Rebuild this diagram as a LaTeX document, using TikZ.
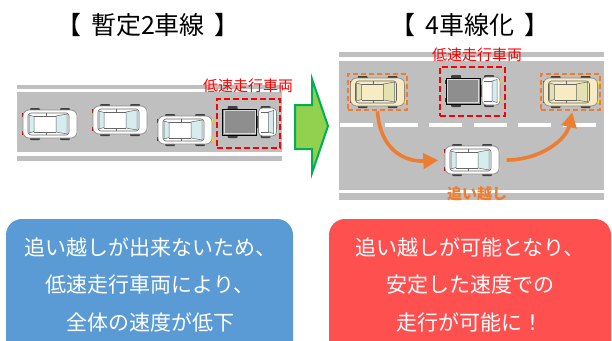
\documentclass[tikz,border=0pt]{standalone}
\usepackage{fontspec}
\setmainfont{Noto Sans CJK JP}
\usetikzlibrary{arrows.meta}

\definecolor{roadgray}{HTML}{BFBFBF}
\definecolor{winblue}{HTML}{D6ECEF}
\definecolor{creambody}{HTML}{F7EBC3}
\definecolor{creamwin}{HTML}{E4E2B0}
\definecolor{cargogray}{HTML}{8E8E8E}
\definecolor{passorange}{HTML}{ED7D31}
\definecolor{slowred}{HTML}{FF0000}
\definecolor{boxblue}{HTML}{5B9BD5}
\definecolor{boxred}{HTML}{FF5050}
\definecolor{arrowfill}{HTML}{92D050}
\definecolor{arrowedge}{HTML}{00B050}

\newcommand{\titlegap}{\hspace{0.4em}}

\tikzset{
  wheel/.style={fill=black!75, rounded corners=1pt},
  lane/.style={white, line width=3.8pt},
  titletext/.style={font=\fontsize{25}{29}\selectfont, text=black},
  slowlabel/.style={font=\fontsize{15}{17}\selectfont, text=slowred},
  slowbox/.style={draw=slowred, line width=2.4pt, dash pattern=on 6pt off 3pt},
  passbox/.style={draw=passorange, line width=2.6pt, dash pattern=on 5pt off 3pt,
    minimum width=59pt, minimum height=36pt},
  passarrow/.style={passorange, line width=3.6pt, -{Triangle[length=15pt,width=15pt]}},
  infobox/.style={rounded corners=16pt},
  infotext/.style={font=\fontsize{21}{37.5}\selectfont, text=white, align=center},
  % top view of a car, front to the right: body colour, window colour
  pics/car/.style n args={2}{code={
    \fill[wheel] (-20,-16) rectangle (-10,-12);
    \fill[wheel] (-20,12) rectangle (-10,16);
    \fill[wheel] (10,-16) rectangle (20,-12);
    \fill[wheel] (10,12) rectangle (20,16);
    \fill[red!80!black] (-28,-11) rectangle (-26,-7);
    \fill[red!80!black] (-28,7) rectangle (-26,11);
    \fill[yellow!90!orange] (26,-11) rectangle (28,-7);
    \fill[yellow!90!orange] (26,7) rectangle (28,11);
    \draw[black!45, line width=0.7pt, fill=#1, rounded corners=6pt] (-27,-14) rectangle (27,14);
    \draw[black!60, line width=0.6pt, fill=#1, rounded corners=3pt] (-22,-11) rectangle (19,11);
    \draw[black!60, line width=0.5pt, fill=#2] (-21,-9) -- (-16,-7.5) -- (-16,7.5) -- (-21,9) -- cycle;
    \draw[black!60, line width=0.5pt, fill=#2] (6,-8) -- (17,-10) -- (17,10) -- (6,8) -- cycle;
    \draw[black!60, line width=0.5pt] (-16,-8) -- (6,-8) (-16,8) -- (6,8)
      (-4,-11) -- (-4,-8) (-4,8) -- (-4,11);
  }},
  % top view of a small truck with a grey cargo box
  pics/truck/.style={code={
    \fill[wheel] (-22,-16) rectangle (-12,-12);
    \fill[wheel] (-22,12) rectangle (-12,16);
    \fill[wheel] (11,-16) rectangle (21,-12);
    \fill[wheel] (11,12) rectangle (21,16);
    \fill[red!80!black] (-28,-11) rectangle (-26,-7);
    \fill[red!80!black] (-28,7) rectangle (-26,11);
    \fill[yellow!90!orange] (26,-11) rectangle (28,-7);
    \fill[yellow!90!orange] (26,7) rectangle (28,11);
    \fill[black!70] (6,-6) rectangle (10,6);
    \draw[black, line width=1pt, fill=cargogray] (-27,-13) rectangle (7,13);
    \draw[white!70!gray, line width=0.6pt] (-25.5,-11.5) rectangle (5.5,11.5);
    \draw[black!50, line width=0.7pt, fill=white, rounded corners=4pt] (9,-14) rectangle (27,14);
    \draw[black!60, line width=0.5pt, fill=winblue] (19,-10) -- (24,-11.5) -- (24,11.5) -- (19,10) -- cycle;
    \draw[black!60, line width=0.5pt] (11,-10) -- (19,-10) (11,10) -- (19,10);
  }}
}

\begin{document}
\begin{tikzpicture}[x=1pt, y=-1pt]
  \useasboundingbox[fill=white] (0,0) rectangle (612,340);

  % ---------- titles ----------
  \node[titletext] (tleft) at (148,25) {【\titlegap 暫定2車線\titlegap 】};
  \node[titletext] (tright) at (470,25) {【\titlegap 4車線化\titlegap 】};

  % ---------- two-lane road ----------
  \fill[roadgray] (17,85) rectangle (282,161);
  \draw[lane] (17,90.5) -- (282,90.5);
  \draw[lane] (17,154) -- (282,154);

  \pic at (50,124) {car={white}{winblue}};
  \pic at (120,120) {car={white}{winblue}};
  \pic at (185,130) {car={white}{winblue}};
  \pic at (249.5,122) {truck};
  \node[slowbox, minimum width=63pt, minimum height=49pt] (slowL) at (248.5,123.5) {};
  \node[slowlabel] (slowLlabel) at (248,86) {低速走行車両};

  % ---------- transition arrow ----------
  \draw[fill=arrowfill, draw=arrowedge, line width=2pt, line join=miter]
    (295,105) -- (312,105) -- (312,79) -- (328,126) -- (312,173) -- (312,149) -- (295,149) -- cycle;

  % ---------- four-lane road ----------
  \fill[roadgray] (339,52) rectangle (604,200);
  \draw[lane] (339,59) -- (604,59);
  \draw[lane] (339,191.5) -- (604,191.5);
  \draw[white, line width=3.6pt, dash pattern=on 33pt off 11.5pt] (340,125) -- (604,125);

  \node[passbox] (carA) at (377.5,92) {};
  \pic at (377.5,92) {car={creambody}{creamwin}};
  \node[passbox] (carB) at (570.5,92) {};
  \pic at (570.5,92) {car={creambody}{creamwin}};

  \pic at (473,91) {truck};
  \node[slowbox, minimum width=65pt, minimum height=49pt] (slowR) at (472.5,91.5) {};
  \node[slowlabel] (slowRlabel) at (477,55) {低速走行車両};

  \node[minimum width=55pt, minimum height=30pt, inner sep=0pt] (passer) at (472,160) {};
  \pic at (472,160) {car={white}{winblue}};

  \draw[passarrow, shorten >=6pt] (carA.south) .. controls (380,150) and (405,162) .. (passer.west);
  \draw[passarrow, shorten <=7pt, shorten >=1pt] (passer.east) .. controls (540,160) and (566,140) .. ([xshift=2pt]carB.south);

  \node[font=\fontsize{15}{17}\selectfont\bfseries, text=passorange] (passlabel) at (477,194) {追い越し};

  % ---------- summary boxes ----------
  \fill[boxblue, infobox] (6,219) rectangle (293,360);
  \fill[boxred, infobox] (329,219) rectangle (611,360);
  \node[infotext] (txtL) at (150,284.5) {追い越しが出来ないため、\\低速走行車両により、\\全体の速度が低下};
  \node[infotext] (txtR) at (470,284.5) {追い越しが可能となり、\\安定した速度での\\走行が可能に！};
\end{tikzpicture}
\end{document}
